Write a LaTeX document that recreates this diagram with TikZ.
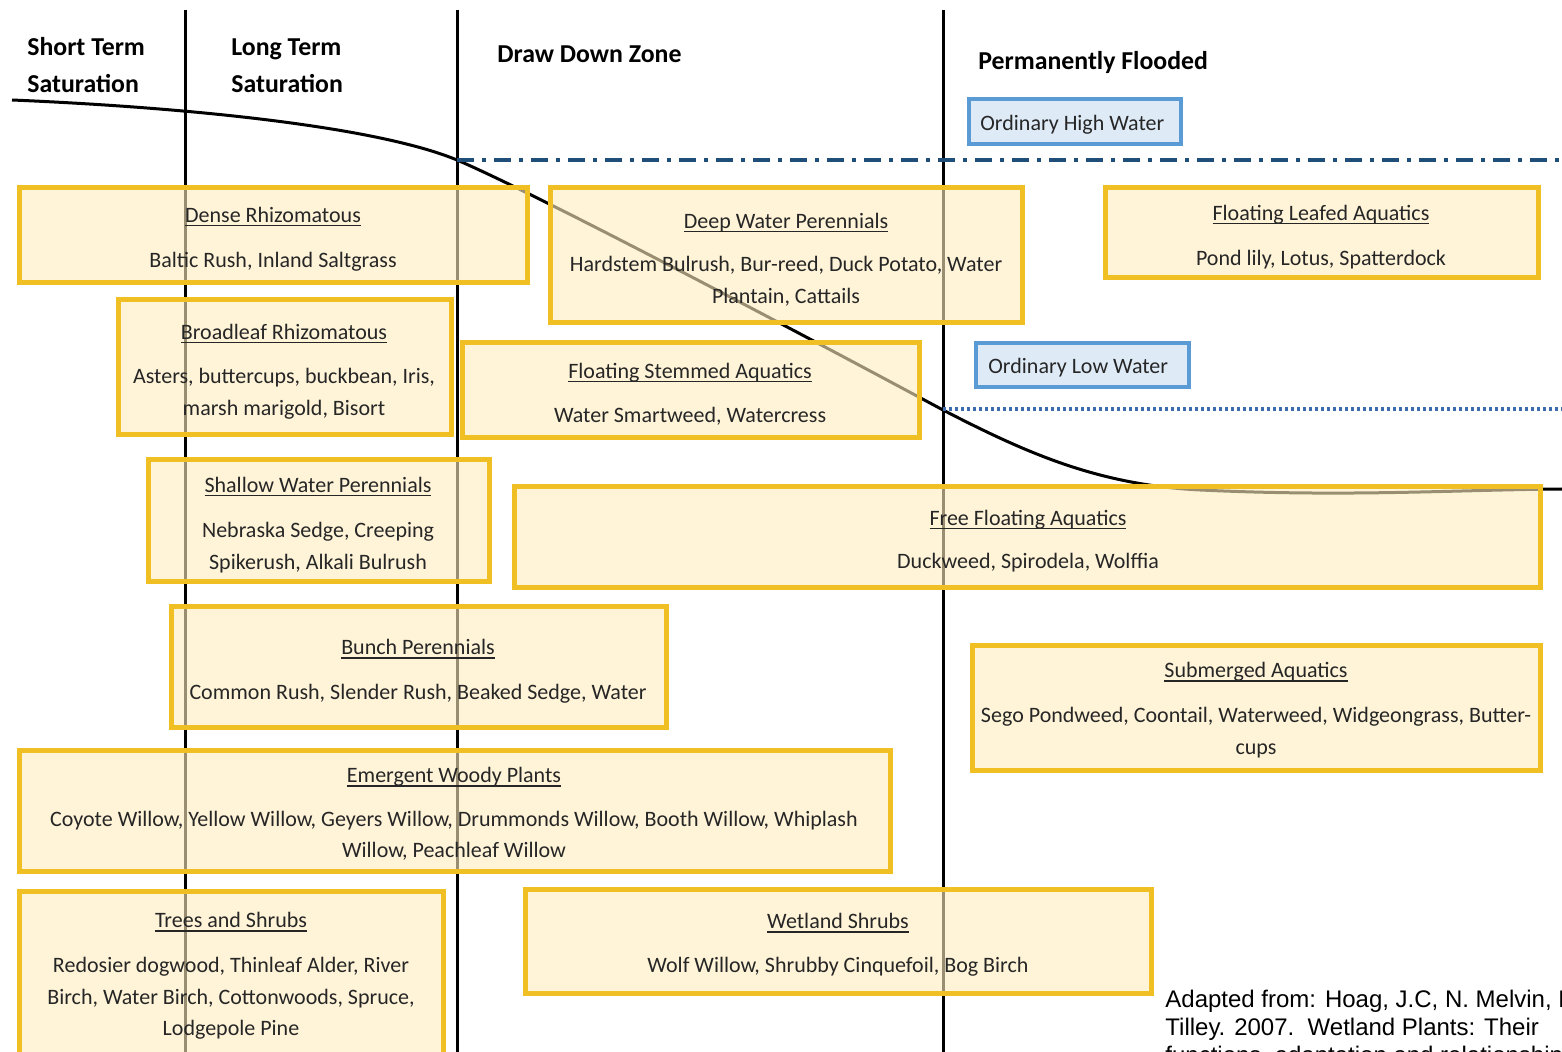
\documentclass[tikz,border=0pt]{standalone}
\usepackage{fontspec}
\setmainfont{Carlito}
\newfontfamily\arialf{Liberation Sans}
\usetikzlibrary{fit}
\definecolor{gold}{RGB}{240,191,36}
\definecolor{cream}{RGB}{255,238,190}
\definecolor{bfill}{RGB}{222,235,247}
\definecolor{bborder}{RGB}{91,155,213}
\definecolor{ohw}{RGB}{31,78,121}
\definecolor{olw}{RGB}{60,108,172}
\definecolor{txtgray}{RGB}{38,38,38}
\newcommand\ttlu[1]{\setbox0\hbox{#1}\rlap{\rule[-2pt]{\wd0}{0.6pt}}\box0}
\newcommand\ybx[5]{\node[ybox, fit={(#2,#3) (#4,#5)}] (#1) {};}
\newcommand\bl[4]{\node[body] (#1) at (#2,#3) {#4};}
\newcommand\tl[4]{\node[body] (#1) at (#2,#3) {\ttlu{#4}};}
\tikzset{
  ybox/.style={draw=gold, line width=2.5pt, fill=cream, fill opacity=0.6, draw opacity=1, inner sep=0pt, outer sep=0pt, rectangle},
  bbox/.style={draw=bborder, line width=2pt, fill=bfill, inner sep=0pt, outer sep=0pt, rectangle},
  body/.style={font=\fontsize{11}{16}\selectfont, text=txtgray, inner sep=0pt, anchor=base},
  hdr/.style={font=\fontsize{12.9}{15}\selectfont\bfseries, text=black, inner sep=0pt, anchor=base west},
  zone/.style={line width=1.5pt, black},
  foot/.style={font=\arialf\fontsize{12}{14}\selectfont, text=black, inner sep=0pt, anchor=base west}
}
\begin{document}
\begin{tikzpicture}[x=0.5pt,y=-0.5pt]
\useasboundingbox (0,0) rectangle (1562,1052);
\clip (0,0) rectangle (1562,1052);
\fill[white] (0,0) rectangle (1562,1052);
% zone lines
\draw[zone] (185,10) -- (185,1052);
\draw[zone] (457,10) -- (457,1052);
\draw[zone] (943,10) -- (943,1052);
% water level curve
\coordinate (c0) at (12,100);
\coordinate (c1) at (457,160);
\coordinate (c2) at (943,410);
\coordinate (c3) at (1200,490);
\coordinate (c4) at (1562,489);
\draw[line width=1.5pt, black] (c0) .. controls (200,108) and (380,128) .. (c1)
  .. controls (550,200) and (850,360) .. (c2)
  .. controls (1030,455) and (1100,485) .. (c3)
  .. controls (1350,497) and (1450,490) .. (c4);
% water lines
\coordinate (ohwL) at (457,160);
\coordinate (ohwR) at (1562,160);
\coordinate (olwL) at (943,409);
\coordinate (olwR) at (1562,409);
\draw[ohw, line width=2pt, dash pattern=on 8.5pt off 4pt on 2pt off 4pt] (ohwL) -- (ohwR);
\draw[olw, line width=1.6pt, dash pattern=on 1.5pt off 1.5pt] (olwL) -- (olwR);
% headers
\node[hdr] (h1a) at (27,56) {Short Term};
\node[hdr] (h1b) at (27,93) {Saturation};
\node[hdr] (h2a) at (231,56) {Long Term};
\node[hdr] (h2b) at (231,93) {Saturation};
\node[hdr] (h3) at (497,63) {Draw Down Zone};
\node[hdr] (h4) at (978,70) {Permanently Flooded};
% blue labels
\node[bbox, fit={(969,99) (1181,144)}] (ohwbox) {};
\node[body, anchor=base west] (ohwt) at (980,131) {Ordinary High Water};
\node[bbox, fit={(976,343) (1189,387)}] (olwbox) {};
\node[body, anchor=base west] (olwt) at (988,374) {Ordinary Low Water};
% yellow boxes
\ybx{b1}{19}{188}{527}{283}
\ybx{b2}{550}{188}{1022}{323}
\ybx{b3}{1105}{188}{1538}{278}
\ybx{b4}{118}{300}{451}{435}
\ybx{b5}{462}{343}{919}{438}
\ybx{b6}{148}{460}{489}{582}
\ybx{b7}{514}{487}{1540}{588}
\ybx{b8}{171}{607}{666}{727}
\ybx{b9}{972}{645}{1540}{770}
\ybx{b10}{19}{750}{890}{871}
\ybx{b11}{19}{891}{443}{1060}
\ybx{b12}{525}{889}{1151}{993}
% texts
\tl{t1}{273}{222.5}{Dense Rhizomatous}
\bl{t1a}{273}{267.5}{Baltic Rush, Inland Saltgrass}
\tl{t2}{786}{228.5}{Deep Water Perennials}
\bl{t2a}{786}{271.5}{Hardstem Bulrush, Bur-reed, Duck Potato, Water}
\bl{t2b}{786}{303.5}{Plantain, Cattails}
\tl{t3}{1321}{220.5}{Floating Leafed Aquatics}
\bl{t3a}{1321}{265.5}{Pond lily, Lotus, Spatterdock}
\tl{t4}{284}{339.5}{Broadleaf Rhizomatous}
\bl{t4a}{284}{383.5}{Asters, buttercups, buckbean, Iris,}
\bl{t4b}{284}{415.5}{marsh marigold, Bisort}
\tl{t5}{690}{378.5}{Floating Stemmed Aquatics}
\bl{t5a}{690}{422.5}{Water Smartweed, Watercress}
\tl{t6}{318}{492.5}{Shallow Water Perennials}
\bl{t6a}{318}{537.5}{Nebraska Sedge, Creeping}
\bl{t6b}{318}{569.5}{Spikerush, Alkali Bulrush}
\tl{t7}{1028}{525.5}{Free Floating Aquatics}
\bl{t7a}{1028}{568.5}{Duckweed, Spirodela, Wolffia}
\tl{t8}{418}{654.5}{Bunch Perennials}
\bl{t8a}{418}{699.5}{Common Rush, Slender Rush, Beaked Sedge, Water}
\tl{t9}{1256}{677.5}{Submerged Aquatics}
\bl{t9a}{1256}{722.5}{Sego Pondweed, Coontail, Waterweed, Widgeongrass, Butter-}
\bl{t9b}{1256}{754.5}{cups}
\tl{t10}{454}{782.5}{Emergent Woody Plants}
\bl{t10a}{454}{826.5}{Coyote Willow, Yellow Willow, Geyers Willow, Drummonds Willow, Booth Willow, Whiplash}
\bl{t10b}{454}{857.5}{Willow, Peachleaf Willow}
\tl{t11}{231}{927.5}{Trees and Shrubs}
\bl{t11a}{231}{972.5}{Redosier dogwood, Thinleaf Alder, River}
\bl{t11b}{231}{1004.5}{Birch, Water Birch, Cottonwoods, Spruce,}
\bl{t11c}{231}{1035.5}{Lodgepole Pine}
\tl{t12}{838}{928.5}{Wetland Shrubs}
\bl{t12a}{838}{972.5}{Wolf Willow, Shrubby Cinquefoil, Bog Birch}
% footer (cut off at the picture edge, as in the reference)
\node[foot] (f1) at (1165,1007) {Adapted from: Hoag, J.C, N. Melvin, D.};
\node[foot] (f2) at (1165,1035) {Tilley. 2007.\ \ Wetland Plants: Their};
\node[foot] (f3) at (1165,1063) {functions, adaptation and relationships};
\end{tikzpicture}
\end{document}
